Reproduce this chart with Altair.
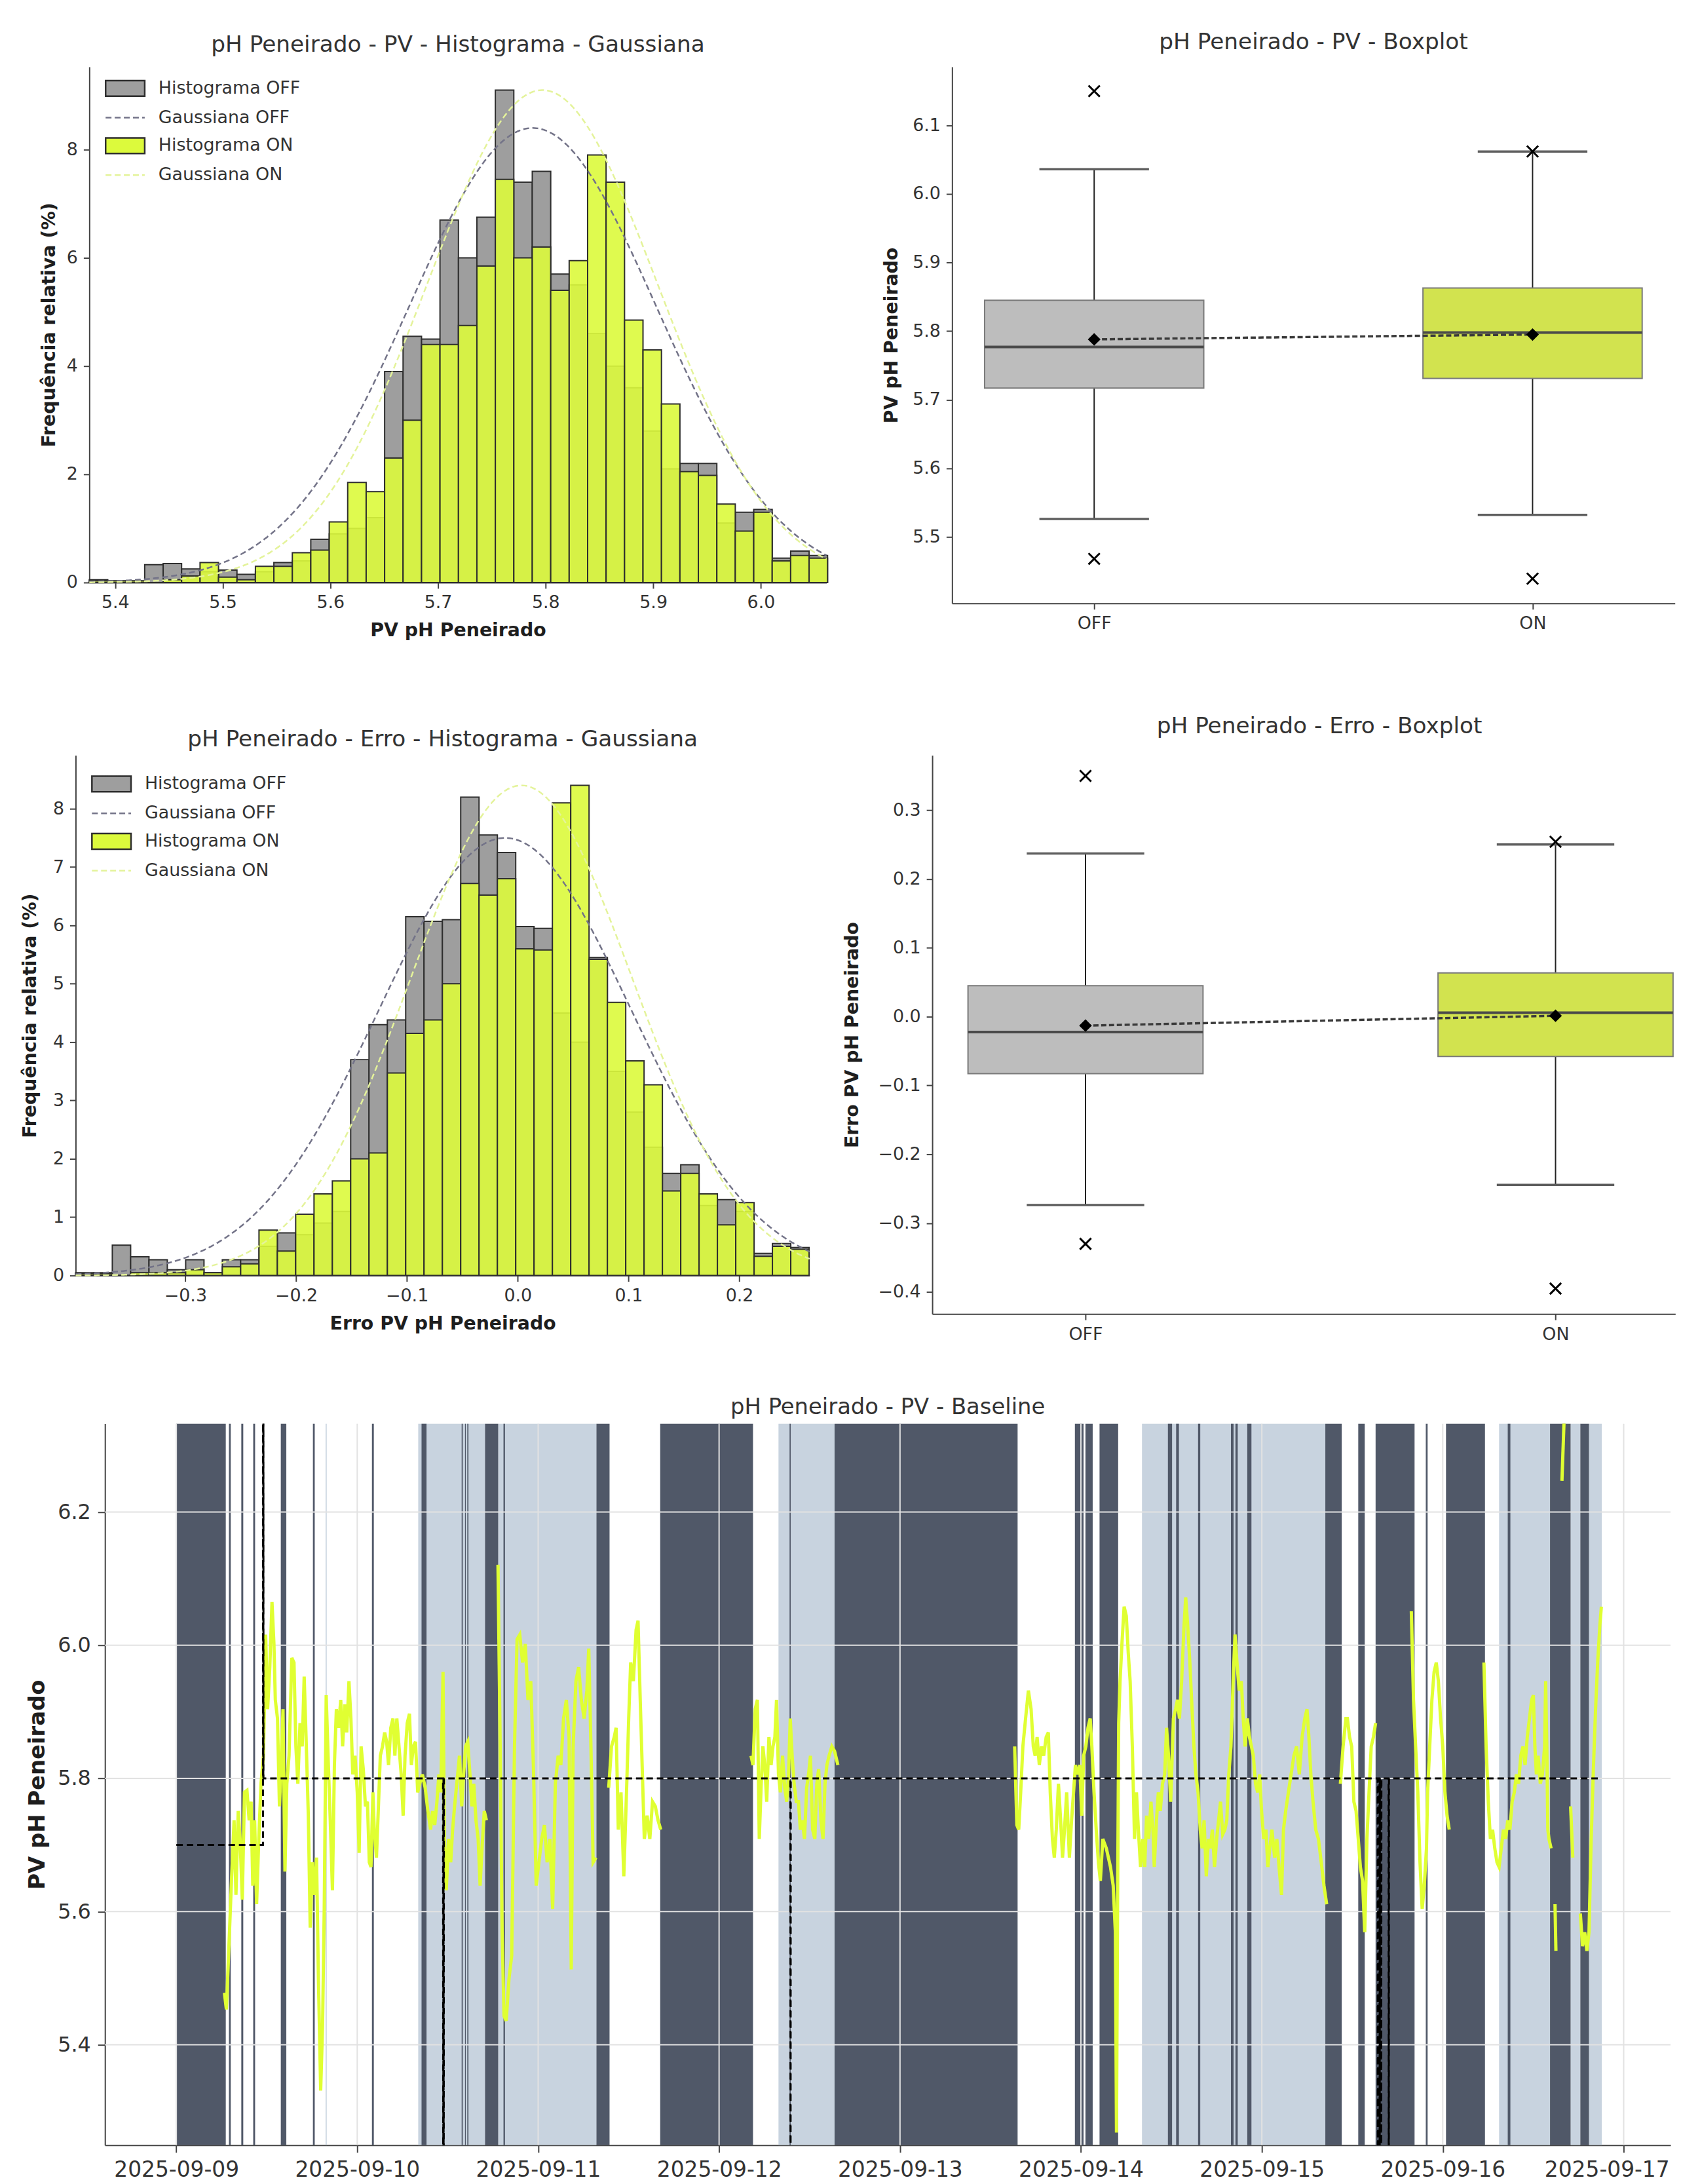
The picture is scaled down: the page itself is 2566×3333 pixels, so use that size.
import altair as alt
import numpy as np
import pandas as pd

FONT = "DejaVu Sans"

# ---------------- Histogram PV (percent per bin) ----------------
PV_BIN_START = 5.376
PV_BIN_WIDTH = 0.01715
PV_HIST_OFF = [0.05, 0.03, 0.03, 0.33, 0.35, 0.25, 0.2, 0.23, 0.15, 0.2, 0.37, 0.4, 0.8, 0.9, 1.0, 1.2,
               3.9, 4.55, 4.5, 6.7, 6.0, 6.75, 9.1, 7.4, 7.6, 5.7, 5.5, 4.6, 4.0, 3.6, 2.8, 2.1, 2.2, 2.2,
               1.1, 1.3, 1.35, 0.45, 0.58, 0.5]
PV_HIST_ON = [0.03, 0.03, 0.03, 0.0, 0.05, 0.12, 0.37, 0.1, 0.05, 0.3, 0.3, 0.55, 0.6, 1.12, 1.85, 1.68,
              2.3, 3.0, 4.4, 4.4, 4.75, 5.85, 7.45, 6.0, 6.2, 5.4, 5.95, 7.9, 7.4, 4.85, 4.3, 3.3, 2.05, 1.98,
              1.45, 0.95, 1.3, 0.4, 0.5, 0.45]
PV_GAUSS_OFF = (5.788, 0.115, 8.4)   # mean, std, peak (%)
PV_GAUSS_ON = (5.797, 0.107, 9.1)

# ---------------- Histogram Erro ----------------
ER_BIN_START = -0.399
ER_BIN_WIDTH = 0.01655
ER_HIST_OFF = [0.05, 0.05, 0.52, 0.32, 0.27, 0.1, 0.27, 0.05, 0.27, 0.27, 0.5, 0.73, 0.7, 0.9, 1.1, 3.7,
               4.3, 4.38, 6.15, 6.07, 6.1, 8.2, 7.55, 7.25, 5.98, 5.95, 4.5, 4.0, 5.45, 3.5, 2.8, 2.2, 1.75,
               1.9, 1.2, 1.3, 1.1, 0.38, 0.55, 0.48]
ER_HIST_ON = [0.03, 0.03, 0.0, 0.05, 0.05, 0.05, 0.1, 0.05, 0.15, 0.2, 0.78, 0.42, 1.05, 1.4, 1.62, 2.0,
              2.1, 3.47, 4.15, 4.38, 5.0, 6.72, 6.52, 6.8, 5.6, 5.58, 8.1, 8.4, 5.42, 4.68, 3.68, 3.27, 1.45,
              1.75, 1.4, 0.87, 1.25, 0.33, 0.5, 0.45]
ER_GAUSS_OFF = (-0.0114, 0.114, 7.5)
ER_GAUSS_ON = (0.0034, 0.100, 8.4)

LEG_LABELS = ["Histograma OFF", "Gaussiana OFF", "Histograma ON", "Gaussiana ON"]

# ---------------- Boxplots (OFF, ON) ----------------
BOX_GROUPS = ["OFF", "ON"]
BOX_POS = [1, 2]
PV_Q1 = [5.717, 5.731]
PV_MED = [5.777, 5.798]
PV_Q3 = [5.845, 5.863]
PV_WLO = [5.526, 5.532]
PV_WHI = [6.036, 6.062]
PV_MEAN = [5.788, 5.795]
PV_OUT_GROUP = ["OFF", "OFF", "ON", "ON"]
PV_OUT_VAL = [6.150, 5.468, 6.062, 5.439]

ER_Q1 = [-0.0827, -0.0579]
ER_MED = [-0.0224, 0.0057]
ER_Q3 = [0.0449, 0.0635]
ER_WLO = [-0.2737, -0.2444]
ER_WHI = [0.237, 0.250]
ER_MEAN = [-0.013, 0.0013]
ER_OUT_GROUP = ["OFF", "OFF", "ON", "ON"]
ER_OUT_VAL = [0.3497, -0.330, 0.254, -0.395]

# ---------------- Time series (hours since 2025-09-09 00:00) ----------------
SEG1_H = [6.38, 6.64, 6.93, 7.29, 7.66, 7.91, 8.21, 8.46, 8.75, 9.04, 9.37, 9.66, 9.92, 10.14, 10.39, 10.65,
          10.94, 11.23, 11.56, 11.85, 12.11, 12.40, 12.69, 12.95, 13.13, 13.42, 13.68, 13.86, 14.15, 14.41,
          14.66, 14.95, 15.32, 15.61, 15.86, 16.12, 16.41, 16.70, 16.96, 17.21, 17.51, 17.76, 18.05, 18.31,
          18.60, 18.85, 19.15, 19.40, 19.62, 19.88, 20.13, 20.42, 20.71, 20.97, 21.23, 21.52, 21.81, 22.06,
          22.36, 22.61, 22.90, 23.16, 23.41, 23.71, 24.00, 24.25, 24.51, 24.80, 25.09, 25.35, 25.60, 25.82,
          26.08, 26.26, 26.55, 26.81, 27.06, 27.35, 27.64, 27.90, 28.15, 28.45, 28.74, 28.99, 29.25, 29.54,
          29.83, 30.09, 30.34, 30.63, 30.93, 31.18, 31.44, 31.73, 32.02, 32.28, 32.64, 33.01, 33.37, 33.73,
          33.99, 34.28, 34.57, 34.83, 35.08, 35.38, 35.56, 35.81, 36.11, 36.40, 36.65, 36.91, 37.20, 37.56,
          37.86, 38.11, 38.37, 38.66, 38.95, 39.21, 39.46, 39.75, 40.04, 40.30, 40.55, 40.85, 41.14]
SEG1_V = [5.478, 5.453, 5.534, 5.639, 5.737, 5.625, 5.751, 5.709, 5.618, 5.779, 5.782, 5.737, 5.765, 5.639,
          5.737, 5.611, 5.709, 5.792, 5.834, 6.016, 5.904, 5.967, 6.065, 6.002, 5.918, 5.890, 5.758, 5.806,
          5.904, 5.660, 5.792, 5.834, 5.981, 5.974, 5.848, 5.792, 5.883, 5.848, 5.953, 5.862, 5.744, 5.576,
          5.674, 5.625, 5.681, 5.499, 5.331, 5.429, 5.604, 5.925, 5.834, 5.737, 5.632, 5.820, 5.904, 5.876,
          5.918, 5.848, 5.911, 5.869, 5.946, 5.890, 5.806, 5.834, 5.779, 5.688, 5.848, 5.814, 5.758, 5.765,
          5.674, 5.667, 5.779, 5.723, 5.681, 5.758, 5.834, 5.848, 5.869, 5.855, 5.820, 5.876, 5.890, 5.834,
          5.890, 5.848, 5.806, 5.744, 5.834, 5.883, 5.897, 5.820, 5.848, 5.855, 5.779, 5.792, 5.806, 5.786,
          5.751, 5.723, 5.751, 5.730, 5.765, 5.806, 5.779, 5.960, 5.709, 5.632, 5.709, 5.674, 5.723, 5.758,
          5.792, 5.834, 5.758, 5.806, 5.848, 5.855, 5.806, 5.758, 5.792, 5.737, 5.709, 5.639, 5.695, 5.751,
          5.737]
SEG2_H = [42.67, 42.96, 43.22, 43.47, 43.76, 44.13, 44.49, 44.86, 45.20, 45.56, 45.93, 46.29, 46.65, 47.02,
          47.38, 47.74, 48.10, 48.47, 48.83, 49.19, 49.56, 49.92, 50.28, 50.65, 51.01, 51.37, 51.74, 52.10,
          52.39, 52.64, 53.01, 53.37, 53.73, 54.10, 54.46, 54.71, 55.00, 55.29, 55.66]
SEG2_V = [6.121, 5.848, 5.569, 5.443, 5.436, 5.499, 5.534, 5.848, 6.009, 6.016, 5.974, 6.002, 5.918, 5.946,
          5.813, 5.639, 5.674, 5.709, 5.730, 5.674, 5.709, 5.604, 5.792, 5.834, 5.820, 5.890, 5.918, 5.862,
          5.513, 5.848, 5.946, 5.967, 5.918, 5.890, 5.932, 5.995, 5.848, 5.674, 5.681]
SEG3_H = [57.36, 57.73, 58.09, 58.34, 58.63, 58.99, 59.36, 59.72, 60.01, 60.27, 60.63, 60.99, 61.25, 61.54,
          61.83, 62.08, 62.45, 62.81, 63.17, 63.54, 63.90, 64.26]
SEG3_V = [5.786, 5.848, 5.862, 5.876, 5.723, 5.779, 5.653, 5.779, 5.890, 5.974, 5.946, 6.023, 6.037, 5.918,
          5.806, 5.709, 5.744, 5.709, 5.765, 5.758, 5.737, 5.723]
SEG4_H = [76.24, 76.50, 76.79, 77.08, 77.33, 77.59, 77.81, 78.06, 78.32, 78.61, 78.90, 79.15, 79.40, 79.62,
          79.88, 80.13, 80.42, 80.71, 80.97, 81.22, 81.44, 81.69, 81.95, 82.24, 82.53, 82.78, 83.04, 83.33,
          83.62, 83.87, 84.12, 84.41, 84.70, 84.96, 85.21, 85.51, 85.79, 86.05, 86.30, 86.59, 86.96, 87.32,
          87.76]
SEG4_V = [5.834, 5.820, 5.904, 5.918, 5.709, 5.792, 5.848, 5.820, 5.765, 5.862, 5.820, 5.848, 5.862, 5.918,
          5.806, 5.779, 5.834, 5.786, 5.765, 5.806, 5.890, 5.834, 5.792, 5.765, 5.765, 5.723, 5.737, 5.709,
          5.786, 5.806, 5.834, 5.723, 5.709, 5.792, 5.814, 5.737, 5.709, 5.792, 5.820, 5.834, 5.848, 5.841,
          5.820]
SEG5_H = [111.21, 111.50, 111.75, 112.01, 112.30, 112.66, 113.03, 113.39, 113.68, 113.93, 114.19, 114.48,
          114.77, 115.06, 115.39, 115.68, 115.93, 116.22, 116.47, 116.73, 117.02, 117.31, 117.56, 117.82,
          118.11, 118.47, 118.76, 119.02, 119.27, 119.56, 119.85, 120.11, 120.36, 120.65, 120.94, 121.23,
          121.45, 121.74, 122.03, 122.32, 122.58, 122.90, 123.37, 123.92, 124.28, 124.57, 124.72, 124.86,
          125.01, 125.19, 125.44, 125.73, 126.02, 126.28, 126.53, 126.82, 127.11, 127.37, 127.62, 127.91,
          128.20, 128.46, 128.71, 129.00, 129.29, 129.55, 129.73, 130.02, 130.27, 130.53, 130.82, 131.11,
          131.36, 131.62, 131.91, 132.27, 132.56, 132.81, 133.07, 133.36, 133.65, 133.90, 134.16, 134.45,
          134.74, 134.99, 135.25, 135.54, 135.83, 136.08, 136.34, 136.63, 136.92, 137.17, 137.43, 137.72,
          138.01, 138.26, 138.52, 138.81, 139.10, 139.35, 139.61, 139.90, 140.19, 140.44, 140.70, 140.99,
          141.28, 141.53, 141.78, 142.07, 142.36, 142.62, 142.87, 143.16, 143.45, 143.71, 143.96, 144.25,
          144.54, 144.80, 145.05, 145.34, 145.70, 145.99, 146.28, 146.61, 146.87, 147.16, 147.52, 147.88,
          148.25, 148.61, 148.97, 149.34, 149.70, 149.99, 150.24, 150.50, 150.79, 151.15, 151.51, 151.88,
          152.24, 152.60]
SEG5_V = [5.848, 5.730, 5.723, 5.779, 5.848, 5.890, 5.932, 5.904, 5.848, 5.834, 5.862, 5.820, 5.848, 5.834,
          5.862, 5.869, 5.779, 5.709, 5.681, 5.723, 5.792, 5.737, 5.681, 5.723, 5.779, 5.681, 5.737, 5.779,
          5.820, 5.806, 5.820, 5.744, 5.834, 5.848, 5.876, 5.890, 5.848, 5.779, 5.723, 5.674, 5.646, 5.709,
          5.695, 5.667, 5.639, 5.569, 5.268, 5.604, 5.883, 5.946, 6.002, 6.058, 6.044, 5.988, 5.946, 5.848,
          5.709, 5.779, 5.723, 5.667, 5.709, 5.667, 5.744, 5.709, 5.765, 5.723, 5.667, 5.737, 5.779, 5.751,
          5.792, 5.806, 5.876, 5.834, 5.765, 5.890, 5.904, 5.918, 5.890, 5.946, 6.023, 6.072, 6.030, 5.974,
          5.904, 5.848, 5.806, 5.779, 5.723, 5.695, 5.737, 5.653, 5.709, 5.695, 5.723, 5.667, 5.709, 5.737,
          5.765, 5.716, 5.723, 5.737, 5.806, 5.848, 5.946, 6.016, 5.974, 5.932, 5.946, 5.890, 5.848, 5.890,
          5.862, 5.848, 5.834, 5.792, 5.779, 5.806, 5.751, 5.709, 5.723, 5.667, 5.695, 5.723, 5.681, 5.709,
          5.667, 5.625, 5.723, 5.751, 5.779, 5.806, 5.834, 5.848, 5.806, 5.862, 5.890, 5.904, 5.862, 5.806,
          5.765, 5.723, 5.709, 5.674, 5.639, 5.611]
SEG6_H = [154.42, 154.78, 155.15, 155.35, 155.64, 155.92, 156.21, 156.50, 156.79, 157.07, 157.36, 157.65,
          157.94, 158.22, 158.51, 158.80, 159.09]
SEG6_V = [5.792, 5.848, 5.890, 5.890, 5.862, 5.848, 5.765, 5.751, 5.709, 5.667, 5.646, 5.569, 5.709, 5.779,
          5.848, 5.862, 5.883]
SEG7_H = [163.83, 164.12, 164.40, 164.69, 164.98, 165.27, 165.55, 165.84, 165.99, 166.27, 166.56, 166.85,
          167.14, 167.42, 167.71, 168.00, 168.29, 168.57, 168.86]
SEG7_V = [6.051, 5.918, 5.848, 5.779, 5.674, 5.604, 5.639, 5.695, 5.779, 5.848, 5.918, 5.960, 5.974, 5.946,
          5.890, 5.848, 5.779, 5.744, 5.723]
SEG8_H = [173.46, 173.75, 174.04, 174.32, 174.61, 174.90, 175.19, 175.47, 175.76, 176.05, 176.34, 176.62,
          176.91, 177.20, 177.49, 177.77, 178.06, 178.35, 178.64, 178.92, 179.21, 179.50, 179.79, 180.02,
          180.22, 180.42, 180.65, 180.94, 181.22, 181.51, 181.65, 181.80, 181.94, 182.09, 182.37]
SEG8_V = [5.974, 5.848, 5.765, 5.709, 5.723, 5.695, 5.674, 5.667, 5.695, 5.723, 5.709, 5.737, 5.723, 5.765,
          5.779, 5.806, 5.792, 5.834, 5.848, 5.820, 5.862, 5.890, 5.918, 5.925, 5.848, 5.806, 5.834, 5.792,
          5.806, 5.848, 5.946, 5.848, 5.723, 5.709, 5.695]
SEG9_H = [182.89, 183.01]
SEG9_V = [5.611, 5.541]
SEG10_H = [183.81, 184.10]
SEG10_V = [6.247, 6.34]
SEG11_H = [184.96, 185.25]
SEG11_V = [5.758, 5.681]
SEG12_H = [186.25, 186.54, 186.83, 187.12, 187.40, 187.69, 187.98, 188.27, 188.55, 188.84, 189.04]
SEG12_V = [5.597, 5.548, 5.569, 5.541, 5.569, 5.709, 5.814, 5.904, 5.974, 6.030, 6.058]

SP_H = [0.0, 11.5, 11.51, 11.52, 11.53, 11.54, 11.55, 11.56, 35.38, 35.41, 35.44, 35.47, 35.5,
        81.45, 81.48, 81.51, 159.37, 159.4, 159.43, 159.6, 159.63, 159.66, 159.8, 159.83, 159.86,
        160.81, 160.84, 160.87, 188.7]
SP_V = [5.7, 5.7, 6.6, 5.8, 6.7, 5.8, 6.8, 5.8, 5.8, 5.0, 5.8, 4.9, 5.8,
        5.8, 5.0, 5.8, 5.8, 5.0, 5.8, 5.8, 5.0, 5.8, 5.8, 5.0, 5.8,
        5.8, 5.0, 5.8, 5.8]

LIGHT_START = [19.8, 32.09, 42.7, 79.88, 128.1, 175.47, 184.96, 187.4]
LIGHT_END = [19.95, 40.95, 55.73, 87.32, 152.42, 182.23, 186.25, 189.1]
DARK_START = [0.0, 6.98, 8.62, 10.2, 13.86, 18.12, 25.95, 32.53, 37.85, 38.3, 38.6, 40.95, 43.4, 55.73,
              64.19, 81.35, 87.32, 119.2, 120.6, 122.47, 131.54, 132.63, 135.54, 139.9, 140.5, 142.07,
              152.42, 156.79, 159.09, 165.75, 168.43, 176.62, 182.23, 186.25]
DARK_END = [6.56, 7.22, 8.88, 10.45, 14.59, 18.36, 26.2, 33.19, 38.0, 38.4, 38.75, 42.7, 43.6, 57.47,
            76.5, 81.5, 111.6, 120.35, 121.56, 124.94, 132.09, 133.0, 135.83, 140.25, 140.8, 142.62,
            154.6, 157.65, 164.26, 165.99, 173.6, 176.97, 184.96, 187.4]

TS_DAYS = [9, 10, 11, 12, 13, 14, 15, 16, 17]
TS_Y_TICKS = [5.4, 5.6, 5.8, 6.0, 6.2]

# ---------------- styles ----------------
C_OFF_BAR = "#9e9e9e"
C_ON_BAR = "#dcfa3c"
C_EDGE = "#2e2e2e"
C_G_OFF = "#737388"
C_G_ON = "#e4f39a"
C_BOX_OFF = "#bdbdbd"
C_BOX_ON = "#d2e34f"
C_DARK = "#505868"
C_LIGHT = "#c8d3df"
C_YEL = "#e0ff32"
RECT_PATH = "M-2.222,-0.889H2.222V0.889H-2.222Z"
LINE_PATH = "M-2.222,0H2.222"
X_PATH = "M-1,-1L1,1M-1,1L1,-1"


def axis(**kw):
    base = dict(labelFont=FONT, titleFont=FONT, labelColor="#333333", titleColor="#1e1e1e",
                titleFontWeight="bold", domainColor="#444444", domainWidth=2, tickColor="#444444",
                tickWidth=2, grid=False, labelLimit=500)
    base.update(kw)
    return alt.Axis(**base)


def title(text, size, offset, dx=0):
    return alt.Title(text, font=FONT, fontSize=size, fontWeight="normal", color="#333333",
                     offset=offset, anchor="middle", dx=dx)


def hist_panel(ttl, xlabel, start, width, off, on, g_off, g_on, xdom, ydom, xticks, yticks,
               w, h, t_off, y_tp, x_tp, leg_x, leg_y):
    n = min(len(off), len(on))
    lo = [start + i * width for i in range(n)]
    hi = [start + (i + 1) * width for i in range(n)]
    df_off = pd.DataFrame({"x": lo, "x2": hi, "y": off[:n], "y2": 0.0})
    df_on = pd.DataFrame({"x": lo, "x2": hi, "y": on[:n], "y2": 0.0})
    xs = np.linspace(xdom[0], xdom[1], 400)

    def curve(p):
        mu, sd, pk = p
        return pk * np.exp(-0.5 * ((xs - mu) / sd) ** 2)

    df_goff = pd.DataFrame({"x": xs, "y": curve(g_off)})
    df_gon = pd.DataFrame({"x": xs, "y": curve(g_on)})
    xsc = alt.Scale(domain=xdom, nice=False, zero=False)
    ysc = alt.Scale(domain=ydom, nice=False, zero=False)
    xax = axis(values=xticks, format=".1f", title=xlabel, labelFontSize=27, titleFontSize=28.5,
               tickSize=9, labelPadding=9, titlePadding=x_tp)
    yax = axis(values=yticks, format="d", title="Frequência relativa (%)", labelFontSize=27,
               titleFontSize=28.5, tickSize=9, labelPadding=9, titlePadding=y_tp)
    X = alt.X("x:Q", scale=xsc, axis=xax)
    Y = alt.Y("y:Q", scale=ysc, axis=yax)

    bars_off = alt.Chart(df_off).mark_rect(fill=C_OFF_BAR, stroke=C_EDGE, strokeWidth=2).encode(
        x=X, x2="x2:Q", y=Y, y2="y2:Q")
    bars_on = alt.Chart(df_on).mark_rect(fill=C_ON_BAR, fillOpacity=0.9, stroke=C_EDGE,
                                         strokeWidth=2).encode(x=X, x2="x2:Q", y=Y, y2="y2:Q")
    line_off = alt.Chart(df_goff).mark_line(color=C_G_OFF, strokeDash=[9, 5], strokeWidth=2.5).encode(
        x=X, y=Y)
    line_on = alt.Chart(df_gon).mark_line(color=C_G_ON, strokeDash=[9, 5], strokeWidth=2.5).encode(
        x=X, y=Y)

    leg = alt.Legend(title=None, orient="none", legendX=leg_x, legendY=leg_y, padding=0,
                     labelFont=FONT, labelFontSize=27, labelColor="#333333", labelLimit=600,
                     symbolSize=729, symbolStrokeWidth=2.5, rowPadding=12, labelOffset=36,
                     symbolOpacity=1)
    df_leg = pd.DataFrame({"x": [xdom[0]] * 4, "y": [0.0] * 4, "serie": LEG_LABELS})
    legend_layer = alt.Chart(df_leg).transform_filter("false").mark_point(filled=True).encode(
        x=X, y=Y,
        fill=alt.Fill("serie:N", scale=alt.Scale(domain=LEG_LABELS,
                                                 range=[C_OFF_BAR, "transparent", C_ON_BAR, "transparent"]),
                      legend=leg),
        stroke=alt.Stroke("serie:N", scale=alt.Scale(domain=LEG_LABELS,
                                                     range=[C_EDGE, C_G_OFF, C_EDGE, C_G_ON]), legend=leg),
        shape=alt.Shape("serie:N", scale=alt.Scale(domain=LEG_LABELS,
                                                   range=[RECT_PATH, LINE_PATH, RECT_PATH, LINE_PATH]),
                        legend=leg),
        strokeDash=alt.StrokeDash("serie:N", scale=alt.Scale(domain=LEG_LABELS,
                                                             range=[[1, 0], [9, 5], [1, 0], [9, 5]]),
                                  legend=leg),
    )
    return alt.layer(bars_off, bars_on, line_off, line_on, legend_layer).properties(
        width=w, height=h, title=title(ttl, 34.5, t_off))


def box_panel(ttl, ylabel, q1, med, q3, wlo, whi, mean, out_grp, out_val, ydom, yticks, xdom,
              w, h, t_off, t_dx, y_tp):
    pos = BOX_POS
    df_box = pd.DataFrame({"x": [p - 0.25 for p in pos], "x2": [p + 0.25 for p in pos],
                           "y": q1, "y2": q3, "cor": [C_BOX_OFF, C_BOX_ON]})
    df_wh = pd.DataFrame({"x": [pos[0], pos[0], pos[1], pos[1]],
                          "y": [wlo[0], q3[0], wlo[1], q3[1]],
                          "y2": [q1[0], whi[0], q1[1], whi[1]]})
    df_cap = pd.DataFrame({"x": [pos[0] - 0.125, pos[0] - 0.125, pos[1] - 0.125, pos[1] - 0.125],
                           "x2": [pos[0] + 0.125, pos[0] + 0.125, pos[1] + 0.125, pos[1] + 0.125],
                           "y": [wlo[0], whi[0], wlo[1], whi[1]]})
    df_med = pd.DataFrame({"x": [p - 0.25 for p in pos], "x2": [p + 0.25 for p in pos], "y": med})
    df_mean = pd.DataFrame({"x": pos, "y": mean})
    gpos = dict(zip(BOX_GROUPS, BOX_POS))
    df_out = pd.DataFrame({"x": [gpos[g] for g in out_grp], "y": out_val})

    xsc = alt.Scale(domain=xdom, nice=False, zero=False)
    ysc = alt.Scale(domain=ydom, nice=False, zero=False)
    xax = axis(values=[1, 2], labelExpr="datum.value == 1 ? 'OFF' : 'ON'", title=None,
               labelFontSize=27, tickSize=9, labelPadding=9)
    yax = axis(values=yticks, format=".1f", title=ylabel, labelFontSize=27, titleFontSize=28.5,
               tickSize=9, labelPadding=9, titlePadding=y_tp)
    X = alt.X("x:Q", scale=xsc, axis=xax)
    Y = alt.Y("y:Q", scale=ysc, axis=yax)

    whisk = alt.Chart(df_wh).mark_rule(color="#222222", strokeWidth=2).encode(x=X, y=Y, y2="y2:Q")
    caps = alt.Chart(df_cap).mark_rule(color="#5e5e5e", strokeWidth=3.5).encode(x=X, x2="x2:Q", y=Y)
    boxes = alt.Chart(df_box).mark_rect(stroke="#7a7a7a", strokeWidth=2).encode(
        x=X, x2="x2:Q", y=Y, y2="y2:Q", fill=alt.Fill("cor:N", scale=None))
    meds = alt.Chart(df_med).mark_rule(color="#4a4a4a", strokeWidth=4).encode(x=X, x2="x2:Q", y=Y)
    mline = alt.Chart(df_mean).mark_line(color="#3a3a3a", strokeDash=[8, 4], strokeWidth=3.5).encode(
        x=X, y=Y)
    mpts = alt.Chart(df_mean).mark_point(shape="diamond", filled=True, color="black", size=380,
                                         opacity=1).encode(x=X, y=Y)
    outs = alt.Chart(df_out).mark_point(shape=X_PATH, filled=False, color="black", strokeWidth=3,
                                        size=300, opacity=1).encode(x=X, y=Y)
    return alt.layer(whisk, caps, boxes, meds, mline, mpts, outs).properties(
        width=w, height=h, title=title(ttl, 34.5, t_off, t_dx))


def to_iso(hours):
    base = pd.Timestamp("2025-09-09 00:00:00")
    return [(base + pd.Timedelta(hours=float(hh))).strftime("%Y-%m-%dT%H:%M:%S") for hh in hours]


def ts_panel(w, h):
    segs = [(SEG1_H, SEG1_V), (SEG2_H, SEG2_V), (SEG3_H, SEG3_V), (SEG4_H, SEG4_V), (SEG5_H, SEG5_V),
            (SEG6_H, SEG6_V), (SEG7_H, SEG7_V), (SEG8_H, SEG8_V), (SEG9_H, SEG9_V), (SEG10_H, SEG10_V),
            (SEG11_H, SEG11_V), (SEG12_H, SEG12_V)]
    frames = []
    for i, (hh, vv) in enumerate(segs):
        n = min(len(hh), len(vv))
        frames.append(pd.DataFrame({"x": to_iso(hh[:n]), "y": vv[:n], "seg": i}))
    df_pv = pd.concat(frames, ignore_index=True)
    n_sp = min(len(SP_H), len(SP_V))
    df_sp = pd.DataFrame({"x": to_iso(SP_H[:n_sp]), "y": SP_V[:n_sp], "o": list(range(n_sp))})
    df_light = pd.DataFrame({"x": to_iso(LIGHT_START), "x2": to_iso(LIGHT_END)})
    df_dark = pd.DataFrame({"x": to_iso(DARK_START), "x2": to_iso(DARK_END)})
    df_vgrid = pd.DataFrame({"x": ["2025-09-%02dT00:00:00" % d for d in TS_DAYS]})
    df_hgrid = pd.DataFrame({"y": TS_Y_TICKS})

    xsc = alt.Scale(domain=[alt.DateTime(year=2025, month=9, date=8, hours=14, minutes=32),
                            alt.DateTime(year=2025, month=9, date=17, hours=6, minutes=13)])
    ysc = alt.Scale(domain=[5.249, 6.333], nice=False, zero=False)
    last_test = "datum.value > datetime(2025, 8, 16, 12)"
    xax = axis(values=[alt.DateTime(year=2025, month=9, date=d) for d in TS_DAYS], format="%Y-%m-%d",
               title=None, labelFontSize=33, tickSize=11, labelPadding=11, labelOverlap=False,
               labelAlign={"condition": {"test": last_test, "value": "right"}, "value": "center"},
               labelOffset={"condition": {"test": last_test, "value": 70}, "value": 0})
    yax = axis(values=TS_Y_TICKS, format=".1f", title="PV pH Peneirado", labelFontSize=32,
               titleFontSize=34, tickSize=11, labelPadding=11, titlePadding=13.8)
    X = alt.X("x:T", scale=xsc, axis=xax)
    Y = alt.Y("y:Q", scale=ysc, axis=yax)

    light = alt.Chart(df_light).mark_rect(color=C_LIGHT, clip=True).encode(x=X, x2="x2:T")
    dark = alt.Chart(df_dark).mark_rect(color=C_DARK, clip=True).encode(x=X, x2="x2:T")
    vgrid = alt.Chart(df_vgrid).mark_rule(color="#e2e2e2", strokeWidth=2, clip=True).encode(x=X)
    hgrid = alt.Chart(df_hgrid).mark_rule(color="#e2e2e2", strokeWidth=2).encode(y=Y)
    pv = alt.Chart(df_pv).mark_line(color=C_YEL, strokeWidth=5, clip=True).encode(
        x=X, y=Y, detail="seg:N")
    sp = alt.Chart(df_sp).mark_line(color="black", strokeDash=[10, 6], strokeWidth=3, clip=True).encode(
        x=X, y=Y, order="o:Q")
    return alt.layer(light, dark, vgrid, hgrid, pv, sp).properties(
        width=w, height=h, title=title("pH Peneirado - PV - Baseline", 34, 8))


def spacer(wd):
    return alt.Chart(pd.DataFrame({"v": [0]})).mark_point(opacity=0).encode(
        x=alt.value(0), y=alt.value(0)).properties(width=wd, height=10)


def indep(c):
    ch = dict(x="independent", y="independent", fill="independent", stroke="independent",
              shape="independent", strokeDash="independent")
    return c.resolve_scale(**ch).resolve_legend(fill="independent", stroke="independent",
                                                shape="independent", strokeDash="independent")


hist1 = hist_panel("pH Peneirado - PV - Histograma - Gaussiana", "PV pH Peneirado",
                   PV_BIN_START, PV_BIN_WIDTH, PV_HIST_OFF, PV_HIST_ON, PV_GAUSS_OFF, PV_GAUSS_ON,
                   [5.376, 6.061], [0, 9.53], [5.4, 5.5, 5.6, 5.7, 5.8, 5.9, 6.0], [0, 2, 4, 6, 8],
                   1131, 791, 16, 12.3, 15, 40, 18)
box1 = box_panel("pH Peneirado - PV - Boxplot", "PV pH Peneirado", PV_Q1, PV_MED, PV_Q3, PV_WLO, PV_WHI,
                 PV_MEAN, PV_OUT_GROUP, PV_OUT_VAL, [5.403, 6.1854], [5.5, 5.6, 5.7, 5.8, 5.9, 6.0, 6.1],
                 [0.6759, 2.3247], 1109, 823, 20, 0, 17.8)
hist2 = hist_panel("pH Peneirado - Erro - Histograma - Gaussiana", "Erro PV pH Peneirado",
                   ER_BIN_START, ER_BIN_WIDTH, ER_HIST_OFF, ER_HIST_ON, ER_GAUSS_OFF, ER_GAUSS_ON,
                   [-0.399, 0.2634], [0, 8.916], [-0.3, -0.2, -0.1, 0.0, 0.1, 0.2],
                   [0, 1, 2, 3, 4, 5, 6, 7, 8], 1126, 798, 6, 19.7, 15.6, 40, 29)
box2 = box_panel("pH Peneirado - Erro - Boxplot", "Erro PV pH Peneirado", ER_Q1, ER_MED, ER_Q3, ER_WLO,
                 ER_WHI, ER_MEAN, ER_OUT_GROUP, ER_OUT_VAL, [-0.4319, 0.3796],
                 [-0.4, -0.3, -0.2, -0.1, 0.0, 0.1, 0.2, 0.3], [0.674, 2.2548], 1140, 857, 26, 24, 25)
ts = ts_panel(2402, 1107)

inner1 = indep(alt.hconcat(hist1, box1, spacing=79.7))
row1 = indep(alt.hconcat(spacer(44), inner1, spacing=0))
inner2 = indep(alt.hconcat(hist2, box2, spacing=45.3))
row2 = indep(alt.hconcat(spacer(15.6), inner2, spacing=0))
row3 = indep(alt.hconcat(spacer(23.8), ts, spacing=0))
upper = indep(alt.vconcat(row1, row2, spacing=115))
chart = indep(alt.vconcat(upper, row3, spacing=82))

chart = chart.properties(
    padding={"left": 5, "top": 30, "right": 0, "bottom": 0},
    background="white",
).configure(font=FONT).configure_view(stroke=None)

chart.save("out.html", embed_options={"renderer": "svg", "actions": False})
